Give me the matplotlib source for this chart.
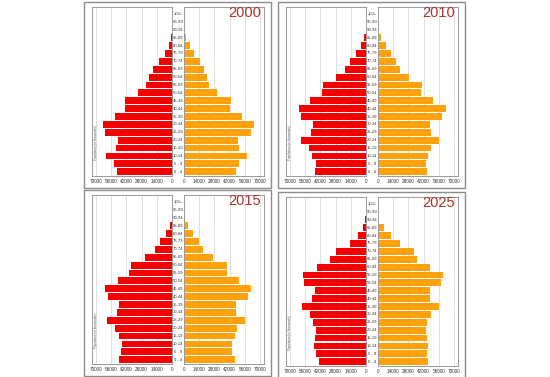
import matplotlib
matplotlib.use("Agg")
import matplotlib.pyplot as plt
from matplotlib.patches import Rectangle
from matplotlib.transforms import blended_transform_factory

plt.rcParams['font.family'] = ['Liberation Sans', 'DejaVu Sans']

# age groups, bottom to top
ages = ["0 - 4", "5 - 9", "10-14", "15-19", "20-24", "25-29", "30-34", "35-39",
        "40-44", "45-49", "50-54", "55-59", "60-64", "65-69", "70-74", "75-79",
        "80-84", "85-89", "90-94", "95-99", "100+"]

years = ["2000", "2010", "2015", "2025"]

# population in thousands
male_2000 = [50700, 53100, 61100, 51600, 49700, 62000, 63600, 52800, 43000, 43600,
             31600, 23600, 20900, 17500, 11700, 6100, 3100, 600, 150, 30, 0]
female_2000 = [47500, 50700, 58100, 50700, 49800, 61300, 64500, 53300, 42100, 43700,
               30800, 23400, 21200, 18600, 14400, 9600, 5100, 1900, 300, 50, 0]

male_2010 = [47000, 46000, 49700, 52200, 59900, 50700, 49100, 59900, 62000, 51300,
             40800, 39900, 27600, 19000, 14700, 9200, 4600, 1500, 400, 50, 0]
female_2010 = [44800, 43800, 46300, 48800, 56400, 48500, 47900, 58900, 62700, 51000,
               40000, 40600, 28400, 20200, 17000, 12300, 7600, 3200, 600, 80, 0]

male_2015 = [48400, 46900, 46300, 49000, 52400, 59800, 50600, 48400, 59200, 61700,
             50000, 39200, 37600, 24700, 15400, 10800, 5200, 2200, 300, 50, 0]
female_2015 = [46600, 44300, 44000, 46600, 48800, 56200, 48200, 48200, 59400, 61700,
               50400, 39200, 39200, 26300, 17700, 13500, 8700, 3900, 1000, 100, 0]

male_2025 = [43200, 45700, 47800, 46900, 45700, 48700, 51400, 59000, 49900, 47200,
             57500, 57800, 44700, 33500, 27400, 15200, 7300, 3000, 600, 80, 0]
female_2025 = [46300, 44700, 46300, 44700, 44100, 45400, 48500, 56400, 47900, 47900,
               58300, 59900, 47900, 35900, 33100, 20200, 11700, 5400, 1300, 150, 0]

males = [male_2000, male_2010, male_2015, male_2025]
females = [female_2000, female_2010, female_2015, female_2025]

ticks = [0, 14000, 28000, 42000, 56000, 70000]

W, H = 550, 377
fig = plt.figure(figsize=(5.5, 3.77), dpi=100)
fig.patch.set_facecolor("white")

# panel boxes: left, top in pixels
panels = [(84, 2), (278, 2), (84, 190), (278, 192)]
pw, ph = 187, 186


def fx(px):
    return px / W


def fy(py):
    return 1 - py / H


for i, (px, py) in enumerate(panels):
    fig.patches.append(Rectangle((fx(px), fy(py + ph)), pw / W, ph / H,
                                 transform=fig.transFigure, fill=False,
                                 edgecolor="#8c8c8c", lw=1.0))

    top, bot = py + 5, py + 174
    ax_m = fig.add_axes([fx(px + 8), fy(bot), 80 / W, (bot - top) / H])
    ax_f = fig.add_axes([fx(px + 100), fy(bot), 80 / W, (bot - top) / H])

    y = range(len(ages))
    ax_m.barh(y, males[i], height=0.86, color="#f40000", zorder=2)
    ax_f.barh(y, females[i], height=0.86, color="#ffa10a", zorder=2)

    for ax in (ax_m, ax_f):
        ax.set_ylim(-0.55, 20.9)
        ax.set_xticks(ticks)
        ax.set_xticklabels([str(t) for t in ticks], fontsize=3.3, color="#333333")
        ax.set_yticks([])
        ax.tick_params(axis="x", length=0, pad=2)
        ax.grid(axis="x", color="#d9d9d9", lw=0.6, zorder=0)
        for s in ax.spines.values():
            s.set_color("#9a9a9a")
            s.set_linewidth(0.7)
    ax_m.set_xlim(73700, 0)
    ax_f.set_xlim(0, 73700)

    tr = blended_transform_factory(ax_m.transAxes, ax_m.transData)
    for k, lab in enumerate(ages):
        ax_m.text(1.075, k, lab, transform=tr, ha="center", va="center",
                  fontsize=3.0, color="#333333", clip_on=False)

    ax_m.text(0.025, 0.2, "Population (in thousands)", transform=ax_m.transAxes,
              rotation=90, fontsize=2.2, color="#555555", ha="left", va="center")

    fig.text(fx(px + 177), fy(py + 11), years[i], ha="right", va="center",
             fontsize=10.5, color="#a8332f")

fig.savefig("out.png", dpi=100, facecolor="white")
